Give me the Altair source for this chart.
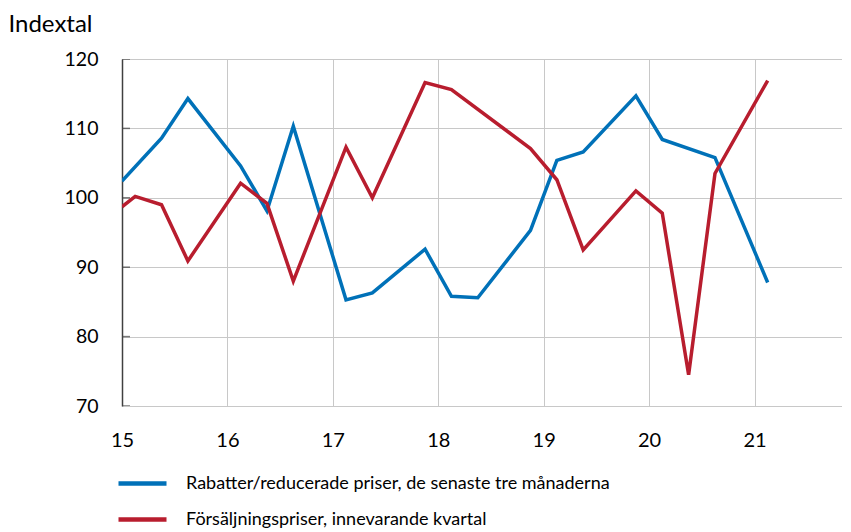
import altair as alt
import pandas as pd

# ---- data ----
series_names = [
    "Rabatter/reducerade priser, de senaste tre månaderna",
    "Försäljningspriser, innevarande kvartal",
]
colors = ["#0071B8", "#B81D2E"]

blue_x = [15.0, 15.375, 15.625, 16.125, 16.375, 16.625, 17.125, 17.375, 17.875,
          18.125, 18.375, 18.875, 19.125, 19.375, 19.875, 20.125, 20.625, 21.125]
blue_y = [102.4, 108.6, 114.3, 104.6, 98.1, 110.3, 85.3, 86.3, 92.6,
          85.8, 85.6, 95.3, 105.4, 106.6, 114.7, 108.4, 105.8, 87.8]

red_x = [15.0, 15.125, 15.375, 15.625, 16.125, 16.375, 16.625, 17.125, 17.375,
         17.875, 18.125, 18.875, 19.125, 19.375, 19.875, 20.125, 20.375, 20.625, 21.125]
red_y = [98.7, 100.2, 99.0, 90.9, 102.1, 99.2, 88.0, 107.3, 100.0,
         116.6, 115.6, 107.1, 102.6, 92.5, 101.0, 97.8, 74.5, 103.5, 116.9]

x_ticks = [15, 16, 17, 18, 19, 20, 21]
y_ticks = [70, 80, 90, 100, 110, 120]

df = pd.concat([
    pd.DataFrame({"year": blue_x, "value": blue_y, "series": series_names[0]}),
    pd.DataFrame({"year": red_x, "value": red_y, "series": series_names[1]}),
])
ticks_df = pd.DataFrame({"year": [15] * len(y_ticks), "value": y_ticks})

FONT = "Lato"
x_scale = alt.Scale(domain=[15, 21.83], nice=False, zero=False)
y_scale = alt.Scale(domain=[70, 120], nice=False, zero=False)

lines = alt.Chart(df).mark_line(strokeWidth=3.5, clip=True).encode(
    x=alt.X("year:Q", scale=x_scale,
            axis=alt.Axis(values=x_ticks, title=None, grid=True, gridColor="#C8C8C8",
                          gridWidth=1, domain=False, ticks=False, labelPadding=24,
                          labelFontSize=20, labelFont=FONT, labelColor="#000000",
                          labelFlush=False, format="d")),
    y=alt.Y("value:Q", scale=y_scale,
            axis=alt.Axis(values=y_ticks, title="Indextal", titleAngle=0, titleX=-114,
                          titleY=-47, titleAlign="left", titleBaseline="top",
                          titleFontSize=24, titleFont=FONT, titleFontWeight="normal",
                          titleColor="#000000", grid=True, gridColor="#C8C8C8",
                          gridWidth=1, domain=True, domainColor="#404040",
                          domainWidth=1.5, ticks=False, labelPadding=24,
                          labelFontSize=19.5, labelFont=FONT, labelColor="#000000")),
    color=alt.Color("series:N", sort=series_names,
                    scale=alt.Scale(domain=series_names, range=colors),
                    legend=alt.Legend(title=None, orient="none", legendX=2, legendY=406,
                                      direction="vertical", symbolType="M-1.5,0H1.5",
                                      symbolSize=1024, symbolStrokeWidth=4.5,
                                      labelFontSize=18, labelFont=FONT,
                                      labelColor="#000000", labelOffset=25,
                                      labelLimit=0, rowPadding=8)),
)

inner_ticks = alt.Chart(ticks_df).mark_tick(
    orient="horizontal", size=16, thickness=1.5, color="#404040", clip=True
).encode(x=alt.X("year:Q", scale=x_scale), y=alt.Y("value:Q", scale=y_scale))

chart = alt.layer(lines, inner_ticks).properties(
    width=720, height=347, padding={"top": 4, "left": 0, "right": 0, "bottom": 0}
).configure_view(stroke=None)

chart.save("out.html", embed_options={"renderer": "svg", "actions": False})
